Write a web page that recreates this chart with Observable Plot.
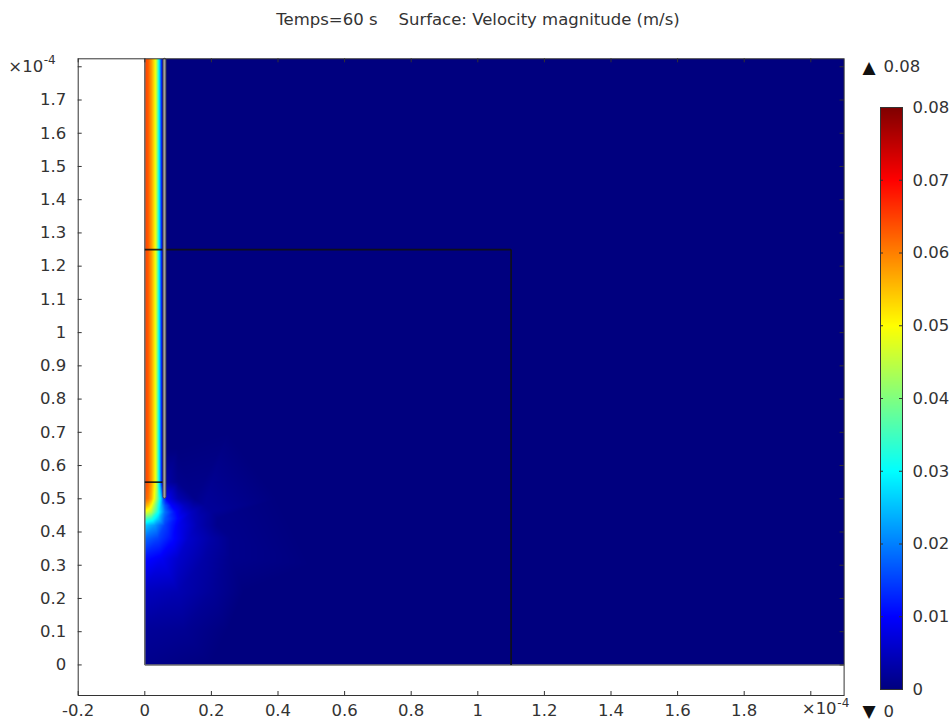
<!DOCTYPE html>
<html><head><meta charset="utf-8">
<script src="https://cdn.jsdelivr.net/npm/d3@7"></script>
<script src="https://cdn.jsdelivr.net/npm/@observablehq/plot@0.6"></script>
<style>
body{margin:0;background:#fff;font-family:"DejaVu Sans",sans-serif;}
#wrap{position:relative;width:952px;height:722px;overflow:hidden;}
#title{position:absolute;top:10px;left:2px;width:952px;text-align:center;font-size:16.5px;color:#333;white-space:pre;}
#main{position:absolute;left:0;top:0}
#cbar{position:absolute;left:850px;top:50px}
</style></head><body>
<div id="wrap"><div id="main"></div><div id="cbar"></div><div id="title"></div></div>
<script>
// ---------- texts & ticks ----------
const titleText = "Temps=60 s    Surface: Velocity magnitude (m/s)";
const expBase = "×10", expPower = "-4";
const xTicks = [-0.2, 0, 0.2, 0.4, 0.6, 0.8, 1, 1.2, 1.4, 1.6, 1.8, 2];
const yTicks = [0, 0.1, 0.2, 0.3, 0.4, 0.5, 0.6, 0.7, 0.8, 0.9, 1, 1.1, 1.2, 1.3, 1.4, 1.5, 1.6, 1.7, 1.8];
const xExpTick = [2], yExpTick = [1.8];
const cbarTicks = [0, 0.01, 0.02, 0.03, 0.04, 0.05, 0.06, 0.07, 0.08];
const colorMax = "0.08", colorMin = "0";

// ---------- colour map (rainbow / jet) ----------
const colorStops = [0, 0.01, 0.03, 0.05, 0.07, 0.08];
const colorRange = ["#00007f", "#0000ff", "#00ffff", "#ffff00", "#ff0000", "#7f0000"];

// ---------- geometry (units of 1e-4 m) ----------
const domainX = [0, 2.1];
const domainY = [0, 1.824];
const wallX = [0.056, 0.065];
const wallY = [0.5, 1.824];
const innerEdges = [[0, 1.25, 1.1, 1.25], [1.1, 0, 1.1, 1.25], [0, 0.55, 0.056, 0.55]];
const outerEdges = [[0, 0, 0, 1.824], [0, 0, 2.1, 0]];

// ---------- sampled velocity magnitude (m/s) ----------
const jetX = [0, 0.01, 0.02, 0.03, 0.035, 0.04, 0.045, 0.05, 0.056];
const jetV = [0.065, 0.063, 0.058, 0.051, 0.045, 0.035, 0.025, 0.013, 0];
const jetRowsY = [0.55, 0.65, 0.8, 0.95, 1.1, 1.25, 1.4, 1.55, 1.7, 1.824];
const outsideX = [0.066, 0.1];
const outsideV055 = [0.003, 0.001];
const plumeY = [0.5, 0.48, 0.46, 0.44, 0.42, 0.38, 0.32, 0.22, 0.1, 0];
const plumeX = [
  [0, 0.01, 0.02, 0.03, 0.04, 0.05, 0.056, 0.066, 0.1, 0.15],
  [0, 0.01, 0.02, 0.03, 0.04, 0.05, 0.06, 0.08, 0.12, 0.18],
  [0, 0.02, 0.04, 0.06, 0.09, 0.14, 0.2],
  [0, 0.02, 0.04, 0.06, 0.1, 0.16, 0.22],
  [0, 0.03, 0.06, 0.1, 0.16, 0.22],
  [0, 0.04, 0.08, 0.13, 0.2, 0.26],
  [0, 0.05, 0.1, 0.18, 0.26],
  [0, 0.1, 0.2, 0.3],
  [0, 0.12, 0.25],
  [0, 0.2]
];
const plumeV = [
  [0.063, 0.061, 0.056, 0.048, 0.037, 0.025, 0.016, 0.009, 0.004, 0.001],
  [0.057, 0.055, 0.05, 0.042, 0.033, 0.024, 0.017, 0.01, 0.005, 0.002],
  [0.049, 0.044, 0.031, 0.019, 0.011, 0.005, 0.002],
  [0.036, 0.033, 0.026, 0.017, 0.01, 0.004, 0.001],
  [0.026, 0.022, 0.015, 0.009, 0.004, 0.001],
  [0.018, 0.015, 0.011, 0.006, 0.003, 0.001],
  [0.011, 0.009, 0.006, 0.003, 0.001],
  [0.005, 0.004, 0.002, 0],
  [0.002, 0.0015, 0],
  [0.001, 0]
];
const farX = [0.2, 0.6, 1.1, 2.1, 0.2, 0.6, 1.1, 2.1, 2.1, 1.1, 0.6, 0.5, 0.4, 0.25, 0.8, 1.6, 1.6];
const farY = [1.824, 1.824, 1.824, 1.824, 1.25, 1.0, 0.6, 1.0, 0, 0, 0, 0.3, 0.5, 0.7, 0.4, 0.3, 1.5];
const farV = 0;

// ---------- assemble samples ----------
const samples = [];
for (const y of jetRowsY) {
  jetX.forEach((x, i) => samples.push({x, y, v: jetV[i]}));
  outsideX.forEach((x, i) => samples.push({x, y, v: y === 0.55 ? outsideV055[i] : 0}));
}
plumeY.forEach((y, r) => plumeX[r].forEach((x, i) => samples.push({x, y, v: plumeV[r][i]})));
farX.forEach((x, i) => samples.push({x, y: farY[i], v: farV}));

const colorScale = {type: "linear", domain: colorStops, range: colorRange, interpolate: "rgb"};

// ---------- main plot ----------
const W = 952, H = 722;
const mL = 77.7, mR = 108.4, mT = 58.3, mB = 27;
const fW = W - mL - mR, fH = H - mT - mB;
const tickLen = 4;
const ink = "#333";
const fs = 16.5;

const main = Plot.plot({
  width: W, height: H,
  marginLeft: mL, marginRight: mR, marginTop: mT, marginBottom: mB,
  x: {domain: [-0.2, 2.1]},
  y: {domain: [-0.092, 1.824]},
  color: colorScale,
  style: {fontFamily: "DejaVu Sans", fontSize: fs + "px", color: ink, background: "white", overflow: "visible"},
  marks: [
    Plot.raster(samples, {x: "x", y: "y", fill: "v", x1: domainX[0], x2: domainX[1], y1: domainY[0], y2: domainY[1], interpolate: "barycentric", imageRendering: "auto"}),
    Plot.link(outerEdges, {x1: d => d[0], y1: d => d[1], x2: d => d[2], y2: d => d[3], stroke: "#6e6e6e", strokeWidth: 1.6}),
    Plot.link(innerEdges, {x1: d => d[0], y1: d => d[1], x2: d => d[2], y2: d => d[3], stroke: "#111", strokeWidth: 1.7, strokeOpacity: 0.9}),
    Plot.rect([{x1: wallX[0], x2: wallX[1], y1: wallY[0], y2: wallY[1]}], {x1: "x1", x2: "x2", y1: "y1", y2: "y2", fill: "#a0a0a0", stroke: "#404040", strokeWidth: 0.9, rx: 1.5}),
    Plot.frame({stroke: ink, strokeWidth: 1}),
    Plot.tickY(yTicks, {y: d => d, insetRight: fW - tickLen, stroke: ink}),
    Plot.tickY(yTicks, {y: d => d, insetLeft: fW - tickLen, stroke: ink}),
    Plot.tickX(xTicks, {x: d => d, insetBottom: fH - tickLen, stroke: ink}),
    Plot.tickX(xTicks, {x: d => d, insetTop: fH - tickLen, stroke: ink}),
    Plot.axisX(xTicks, {anchor: "bottom", tickSize: 0, tickPadding: 9, label: null, fill: ink, tickFormat: d => xExpTick.includes(d) ? "" : String(d)}),
    Plot.axisY(yTicks, {anchor: "left", tickSize: 0, tickPadding: 12, label: null, fill: ink, tickFormat: d => yExpTick.includes(d) ? "" : String(d)}),
    // exponent labels
    Plot.text(yExpTick, {y: d => d, frameAnchor: "left", dx: -35, textAnchor: "end", text: () => expBase, fill: ink}),
    Plot.text(yExpTick, {y: d => d, frameAnchor: "left", dx: -34.5, dy: -7, textAnchor: "start", text: () => expPower, fill: ink, fontSize: 12}),
    Plot.text(xExpTick, {x: d => d, frameAnchor: "bottom", dx: -9, dy: 18, textAnchor: "start", text: () => expBase, fill: ink}),
    Plot.text(xExpTick, {x: d => d, frameAnchor: "bottom", dx: 26.5, dy: 11, textAnchor: "start", text: () => expPower, fill: ink, fontSize: 12})
  ]
});
document.getElementById("main").appendChild(main);

// ---------- colour bar ----------
const cb = Plot.plot({
  width: 102, height: 672,
  marginLeft: 30, marginRight: 50, marginTop: 57, marginBottom: 33,
  x: {domain: [0, 1], axis: null},
  y: {domain: [colorStops[0], colorStops[colorStops.length - 1]]},
  color: colorScale,
  style: {fontFamily: "DejaVu Sans", fontSize: fs + "px", color: ink, overflow: "visible"},
  marks: [
    Plot.raster({x1: 0, x2: 1, y1: colorStops[0], y2: colorStops[colorStops.length - 1], fill: (x, y) => y, width: 1, height: 582, imageRendering: "auto"}),
    Plot.frame({stroke: ink, strokeWidth: 1}),
    Plot.tickY(cbarTicks, {y: d => d, insetRight: 22 - 3, stroke: ink}),
    Plot.tickY(cbarTicks, {y: d => d, insetLeft: 22 - 3, stroke: ink}),
    Plot.axisY(cbarTicks, {anchor: "right", tickSize: 0, tickPadding: 10, label: null, fill: ink, tickFormat: d => String(d)}),
    Plot.text(["▲"], {frameAnchor: "top-left", dx: -18, dy: -47, textAnchor: "start", fill: "#111", fontSize: 17}),
    Plot.text([colorMax], {frameAnchor: "top-left", dx: 3, dy: -47, textAnchor: "start", fill: ink}),
    Plot.text(["▼"], {frameAnchor: "bottom-left", dx: -18, dy: 27, textAnchor: "start", fill: "#111", fontSize: 17}),
    Plot.text([colorMin], {frameAnchor: "bottom-left", dx: 3, dy: 27, textAnchor: "start", fill: ink})
  ]
});
document.getElementById("cbar").appendChild(cb);
document.getElementById("title").textContent = titleText;
</script>
</body></html>
